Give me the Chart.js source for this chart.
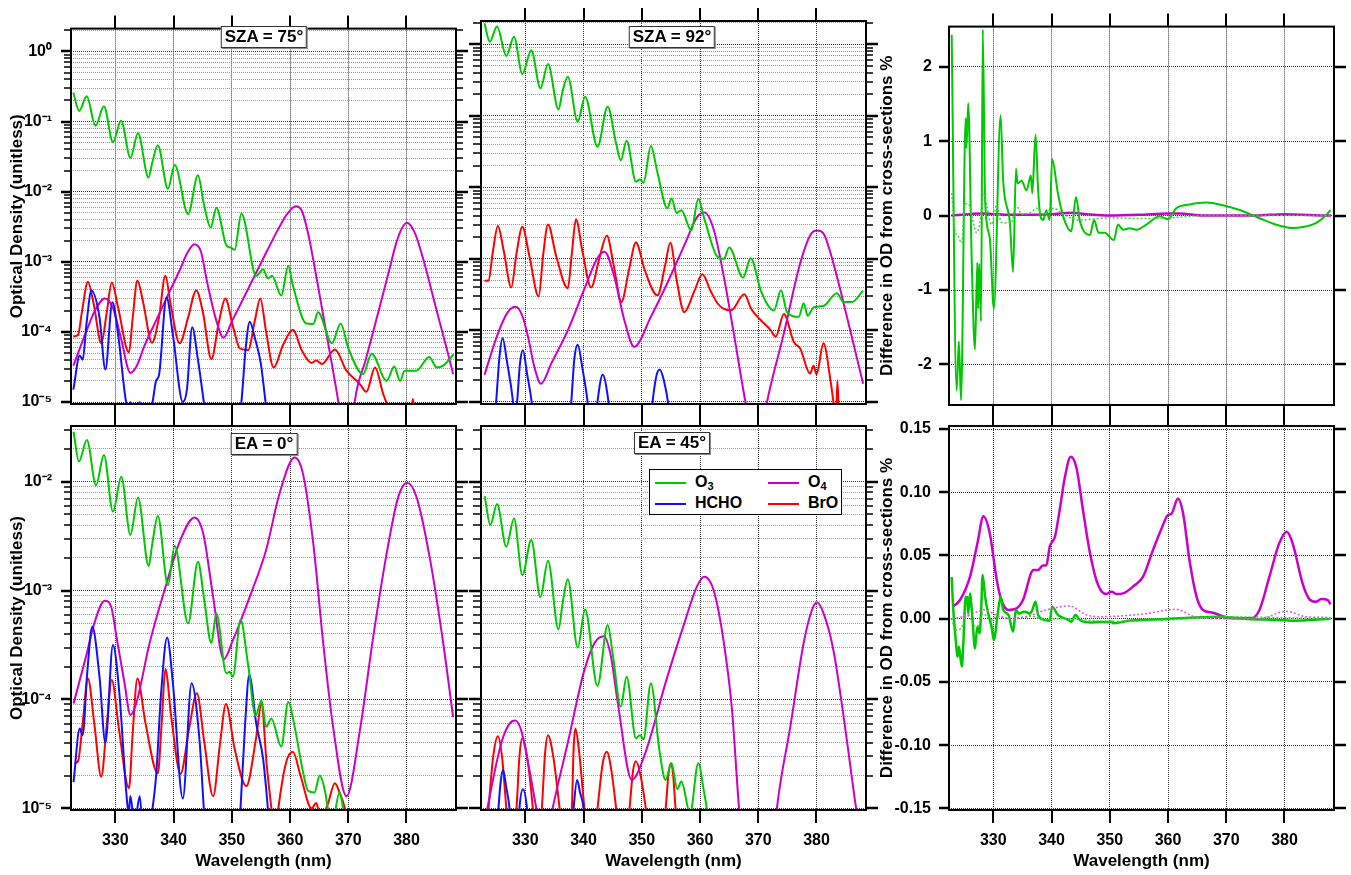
<!DOCTYPE html>
<html>
<head>
<meta charset="utf-8">
<script src="https://cdn.jsdelivr.net/npm/chart.js@4.4.1/dist/chart.umd.min.js"></script>
<style>
  body { margin: 0; background: #fff; }
  #page { position: relative; width: 1351px; height: 875px; overflow: hidden; font-family: 'Liberation Sans', Arial, sans-serif; }
  #page canvas { position: absolute; left: 0; top: 0; }
  .tag { position: absolute; transform: translate(-50%, -50%); background: #fff; border: 1px solid #333; box-shadow: 1px 1px 0 #888;
         font-weight: bold; font-size: 17px; line-height: 20px; padding: 0 3px; white-space: nowrap; color: #000; }
  .legend { position: absolute; left: 649px; top: 469px; width: 191px; height: 44px; background: #fff; border: 1px solid #000;
            font-weight: bold; font-size: 16px; color: #000; }
  .legend .item { position: absolute; height: 20px; line-height: 20px; white-space: nowrap; }
  .legend .item i { display: inline-block; width: 31px; height: 2px; vertical-align: middle; margin-right: 9px; }
  .legend sub { font-size: 11px; vertical-align: -3px; line-height: 0; }
</style>
</head>
<body>
<div id="page">
  <canvas id="c1" width="1351" height="875"></canvas>
  <canvas id="c2" width="1351" height="875"></canvas>
  <canvas id="c3" width="1351" height="875"></canvas>
  <canvas id="c4" width="1351" height="875"></canvas>
  <canvas id="c5" width="1351" height="875"></canvas>
  <canvas id="c6" width="1351" height="875"></canvas>
  <div class="tag" style="left:264px; top:37px">SZA = 75°</div>
  <div class="tag" style="left:672px; top:37px">SZA = 92°</div>
  <div class="tag" style="left:264px; top:444px">EA = 0°</div>
  <div class="tag" style="left:672px; top:443px">EA = 45°</div>
  <div class="legend">
    <div class="item" style="left:5px; top:2px"><i style="background:#00c800"></i>O<sub>3</sub></div>
    <div class="item" style="left:118px; top:2px"><i style="background:#cc00cc"></i>O<sub>4</sub></div>
    <div class="item" style="left:5px; top:23px"><i style="background:#1010ff"></i>HCHO</div>
    <div class="item" style="left:118px; top:23px"><i style="background:#ff0000"></i>BrO</div>
  </div>
</div>
<script>
const FONT = "'Liberation Sans', Arial, sans-serif"
const GREEN = '#00c800'
const BLUE = '#1010ff'
const RED = '#ff0000'
const MAGENTA = '#cc00cc'

// axis ticks
const wavelengthTicks = [330, 340, 350, 360, 370, 380]
const logMantissas = [1, 2, 3, 4, 5, 6, 7, 8, 9]
const logDecades = [-6, -5, -4, -3, -2, -1, 0]
const diffTopTicks = [-2, -1, 0, 1, 2]
const diffBottomTicks = [-0.15, -0.1, -0.05, 0, 0.05, 0.1, 0.15]

// [wavelength nm, optical density]  --- SZA = 75°
const sza75_O3 = [[322.8,0.26],[323.8,0.142],[325.1,0.23],[326.6,0.0875],[328.05,0.166],[329.6,0.051],[331.0,0.103],[332.6,0.0305],[333.9,0.068],[335.7,0.016],[336.4,0.027],[337.3,0.046],[339.05,0.011],[340.2,0.024],[342.5,0.0048],[344.2,0.0171],[345.2,0.0067],[346.4,0.0031],[347.35,0.0059],[349.1,0.0017],[349.8,0.0016],[350.5,0.00148],[351.65,0.0049],[354.2,0.00063],[355.4,0.00078],[356.2,0.00058],[356.9,0.00063],[358.5,0.00033],[359.7,0.00087],[360.5,0.00046],[362.8,0.000132],[364.0,0.00013],[364.8,0.00019],[367.2,6.9e-5],[368.7,1.32e-4],[370.0,5.9e-5],[372.55,2.5e-5],[374.0,4.9e-5],[376.6,2.0e-5],[377.9,3.2e-5],[378.9,2.0e-5],[379.7,2.8e-5],[381.7,2.8e-5],[383.9,4.4e-5],[385.2,3.1e-5],[386.3,3.3e-5],[388.1,4.8e-5]]
const sza75_O4 = [[322.8,3.3e-5],[325,1.0e-4],[326.5,2.0e-4],[328.2,3.0e-4],[329.6,2.2e-4],[331,8e-5],[332.6,2.6e-5],[333.7,3.3e-5],[335,6.3e-5],[337,1.45e-4],[339,3.3e-4],[341,7.4e-4],[342.5,1.4e-3],[343.6,1.78e-3],[344.7,1.4e-3],[345.8,5e-4],[347.2,1.6e-4],[348.6,8.3e-5],[350,1.4e-4],[352,3.0e-4],[354,6.5e-4],[356,1.4e-3],[358,2.95e-3],[359.5,4.8e-3],[361,6.2e-3],[362,5.4e-3],[363,2.8e-3],[364.5,6.3e-4],[366.3,9e-5],[368.3,1e-5],[369.5,2e-6],[370.3,2e-6],[371.1,1e-5],[373,4e-5],[375,1.7e-4],[377,7.4e-4],[378.2,1.8e-3],[379.2,3.0e-3],[380.1,3.6e-3],[381.5,2.5e-3],[383,1.0e-3],[385,2.3e-4],[387,5.4e-5],[388,2.5e-5]]
const sza75_HCHO = [[322.8,1.5e-5],[323.9,4.6e-5],[324.4,4.0e-5],[325.1,1.4e-4],[325.9,3.9e-4],[327.3,1.6e-4],[328.3,2.9e-5],[329.5,2.65e-4],[330.5,9e-5],[331.8,1.07e-5],[332.2,8e-6],[332.6,1.0e-5],[333.2,6e-6],[334.2,1.0e-5],[335,4e-6],[336.4,1.0e-5],[337.0,2.0e-5],[337.5,2.4e-5],[338.8,3.1e-4],[339.9,9e-5],[341.6,1.0e-5],[342.3,1.5e-5],[343.2,1.17e-4],[344.2,4e-5],[345.2,1e-5],[346,3e-6],[350.5,3e-6],[351.65,1e-5],[352.4,6e-5],[353.1,1.4e-4],[354,8e-5],[355,3.5e-5],[355.8,1e-5],[356.6,3e-6],[388,3e-6]]
const sza75_BrO = [[322.8,8.6e-5],[323.6,9.0e-5],[324.3,2.0e-4],[325.3,5.2e-4],[326.3,2.5e-4],[327.6,6.9e-5],[328.5,1.8e-4],[329.4,5.06e-4],[330.5,2.2e-4],[332.35,5.1e-5],[333.0,1.6e-4],[333.8,5.4e-4],[334.8,2.6e-4],[336.3,7e-5],[337.5,1.6e-4],[338.6,6.3e-4],[339.5,2.5e-4],[341.05,6.9e-5],[342.5,1.6e-4],[343.9,3.9e-4],[345.0,2.0e-4],[346.5,4.1e-5],[347.8,1.4e-4],[348.9,3.0e-4],[350.2,1.2e-4],[351.4,5.8e-5],[352.8,5.5e-5],[354.0,1.5e-4],[354.9,3.0e-4],[355.9,1.0e-4],[357.2,3.1e-5],[358.8,6.5e-5],[360.5,1.07e-4],[362,5.5e-5],[363.7,3.6e-5],[364.5,3.9e-5],[365.5,3.5e-5],[367.7,5.6e-5],[369.7,2.8e-5],[372.0,1.8e-5],[373.1,1.4e-5],[374.6,3.1e-5],[376.0,1.3e-5],[377.0,8e-6],[378.5,4e-6],[380.6,5e-6],[381.1,1.1e-5],[381.6,5e-6],[384,3e-6],[388,3e-6]]

// SZA = 92°
const sza92_O3 = [[323.0,1.97],[323.9,1.09],[325.15,1.77],[326.75,0.687],[328.06,1.28],[329.5,0.385],[331.03,0.83],[332.6,0.243],[333.9,0.53],[335.7,0.123],[336.45,0.23],[337.3,0.353],[339.0,0.083],[340.27,0.185],[342.4,0.037],[344.15,0.134],[345.6,0.041],[346.4,0.024],[347.4,0.045],[349.0,0.012],[349.7,0.0129],[350.3,0.0116],[351.56,0.038],[352.7,0.016],[354.4,0.0051],[355.1,0.0070],[356.0,0.0044],[356.8,0.0048],[358.5,0.0025],[359.7,0.00687],[360.8,0.0035],[363.0,0.00107],[364.1,0.0010],[365.0,0.00145],[367.4,5.5e-4],[368.7,1.02e-3],[370.5,3.5e-4],[372.7,1.9e-4],[373.9,3.65e-4],[374.95,1.8e-4],[376.95,1.55e-4],[377.8,2.4e-4],[378.5,1.6e-4],[379.5,2.1e-4],[381.2,2.2e-4],[383.5,3.3e-4],[384.65,2.5e-4],[386.1,2.5e-4],[388.0,3.6e-4]]
const sza92_O4 = [[323.0,2.4e-5],[325.3,9e-5],[327,1.8e-4],[328.35,2.14e-4],[329.5,1.6e-4],[330.5,8e-5],[331.6,3e-5],[332.7,1.8e-5],[334.5,3.5e-5],[337.3,1.0e-4],[340.2,3.9e-4],[342.3,1.0e-3],[343.6,1.26e-3],[345.3,5.6e-4],[347,1.4e-4],[348.7,5.9e-5],[351.56,1.55e-4],[354.4,4.6e-4],[357.3,1.55e-3],[359.55,3.9e-3],[360.8,4.47e-3],[362.4,2.5e-3],[364.1,5.6e-4],[365.8,9.1e-5],[367.8,1e-5],[369.5,2e-6],[370,2e-6],[371.5,1e-5],[374.4,9.1e-5],[377.2,8.7e-4],[379,2.2e-3],[380.1,2.5e-3],[381.3,2.2e-3],[382.9,8.7e-4],[385.8,1e-4],[388,1.8e-5]]
const sza92_HCHO = [[323,3e-6],[324.5,3e-6],[325.0,1e-5],[325.6,4.5e-5],[326.1,7.8e-5],[326.9,3.5e-5],[327.9,1e-5],[328.2,5e-6],[328.6,1e-5],[329.1,3.5e-5],[329.6,5.3e-5],[330.3,2.5e-5],[331.1,1e-5],[331.8,3e-6],[337.2,3e-6],[337.9,1e-5],[338.4,3.8e-5],[339.0,6.3e-5],[339.8,3e-5],[340.7,1e-5],[341.3,3e-6],[341.8,3e-6],[342.4,1e-5],[343.3,2.4e-5],[344.3,1e-5],[345,3e-6],[351.2,3e-6],[351.85,1e-5],[352.5,2.3e-5],[353.1,2.85e-5],[353.8,2e-5],[354.5,1e-5],[355.2,3e-6],[388,3e-6]]
const sza92_BrO = [[323.0,4.95e-4],[323.7,5.0e-4],[324.4,1.2e-3],[325.3,2.88e-3],[326.3,1.3e-3],[327.6,4.0e-4],[328.5,1.2e-3],[329.5,2.82e-3],[330.7,1.1e-3],[332.3,3.0e-4],[333.1,1.2e-3],[333.9,3.03e-3],[335.3,1.1e-3],[337.3,3.9e-4],[338.0,1.2e-3],[338.7,3.6e-3],[339.8,1.3e-3],[341.3,4.0e-4],[342.7,1.0e-3],[344.0,2.13e-3],[345.2,8e-4],[346.5,2.5e-4],[347.8,7e-4],[349.0,1.7e-3],[350.5,7e-4],[352.7,3.1e-4],[354.0,8e-4],[354.9,1.68e-3],[356,5e-4],[357.3,1.8e-4],[359,3.5e-4],[360.4,6.1e-4],[361.8,3.6e-4],[363.0,2.4e-4],[364.1,2.0e-4],[365.3,1.9e-4],[367.6,3.2e-4],[368.8,2.0e-4],[370.4,1.4e-4],[372.1,1.02e-4],[373.0,8.2e-5],[374.4,1.7e-4],[376.1,6.9e-5],[377.2,5.6e-5],[378.9,2.5e-5],[379.5,3.2e-5],[380.0,2.45e-5],[381.2,6.6e-5],[382.4,2.0e-5],[382.9,1e-5],[383.3,5e-6],[383.6,2e-5],[383.9,5e-6],[388,3e-6]]

// EA = 0°
const ea0_O3 = [[322.84,0.0288],[323.76,0.0153],[325.13,0.0242],[326.7,0.0093],[328.05,0.0176],[329.6,0.0053],[331.03,0.0111],[332.6,0.00324],[333.9,0.00718],[335.73,0.00168],[336.36,0.0027],[337.3,0.00484],[339.05,0.00112],[340.2,0.00257],[342.5,5.0e-4],[344.2,0.00184],[345.2,8.8e-4],[346.5,3.3e-4],[347.35,6.2e-4],[349.07,1.74e-4],[349.6,1.8e-4],[350.2,1.62e-4],[351.5,5.4e-4],[352.8,2.1e-4],[354.1,7.1e-5],[355.1,9.8e-5],[355.9,5.6e-5],[356.8,6.7e-5],[358.5,3.7e-5],[359.7,9.5e-5],[360.8,5.6e-5],[362.2,2.2e-5],[363.1,1.45e-5],[364.2,1.4e-5],[365.1,2.0e-5],[366.0,1.45e-5],[366.5,1.0e-5],[367.2,7e-6],[368.5,1.4e-5],[369.4,8e-6],[371,3e-6],[388,3e-6]]
const ea0_O4 = [[322.84,9.2e-5],[325,2.5e-4],[326.4,5.0e-4],[328.2,8.07e-4],[329.3,7.1e-4],[330.2,3.8e-4],[331.6,1.4e-4],[332.6,7.2e-5],[333.6,9.2e-5],[335.9,3.3e-4],[338.8,1.16e-3],[341.05,2.8e-3],[343.6,4.7e-3],[345.1,3.35e-3],[346.8,8.8e-4],[348.6,2.34e-4],[350.2,3.5e-4],[353.1,8.8e-4],[355.9,2.36e-3],[358.2,7.8e-3],[360.8,0.0167],[362.2,0.012],[364,2.7e-3],[365.7,3.3e-4],[367.4,5.6e-5],[369.7,1.29e-5],[372,5.2e-5],[374.3,3.8e-4],[376.6,2.2e-3],[378.6,7.3e-3],[380.1,9.8e-3],[381.7,7.3e-3],[384,2.0e-3],[386.3,3.3e-4],[388,6.9e-5]]
const ea0_HCHO = [[322.84,1.74e-5],[323.9,5.4e-5],[324.4,4.7e-5],[325.2,1.8e-4],[326.05,4.65e-4],[327.3,1.6e-4],[328.3,4.0e-5],[329.6,3.16e-4],[330.7,1.15e-4],[331.9,1.38e-5],[332.3,9e-6],[332.6,1.3e-5],[333.3,7e-6],[334.2,1.3e-5],[335,4e-6],[336.4,1e-5],[337.0,1.95e-5],[337.9,1.2e-4],[338.9,3.7e-4],[339.9,1.4e-4],[341.6,1.23e-5],[343.1,1.41e-4],[344.5,4e-5],[345.2,1e-5],[346,3e-6],[350.8,3e-6],[351.5,1e-5],[352.3,6e-5],[353.0,1.68e-4],[354.2,6e-5],[355.4,2.8e-5],[356.2,1e-5],[357,3e-6],[388,3e-6]]
const ea0_BrO = [[323.0,2.6e-5],[323.6,2.7e-5],[324.4,6e-5],[325.3,1.56e-4],[326.4,6e-5],[327.6,1.95e-5],[328.5,5.5e-5],[329.4,1.51e-4],[330.6,5.5e-5],[332.35,1.53e-5],[333.0,5e-5],[333.8,1.56e-4],[335.2,6e-5],[337.3,2.1e-5],[338.0,6.5e-5],[338.6,1.9e-4],[339.6,7e-5],[341.2,2.07e-5],[342.7,5.5e-5],[344.0,1.14e-4],[345.3,4e-5],[346.8,1.29e-5],[348.0,4e-5],[349.0,9.1e-5],[350.5,3.5e-5],[352.5,1.6e-5],[354.2,4.5e-5],[355.1,9.1e-5],[356.0,2.5e-5],[356.8,1e-5],[357.4,5e-6],[358,1e-5],[359.3,2.6e-5],[360.5,3.3e-5],[361.8,2e-5],[363.7,1e-5],[364.5,1.12e-5],[365.3,8e-6],[366.5,1.1e-5],[367.7,1.7e-5],[368.5,1.4e-5],[369.4,1e-5],[370.5,4e-6],[388,3e-6]]

// EA = 45°
const ea45_O3 = [[323.04,7.38e-3],[324.0,4.0e-3],[325.15,6.24e-3],[326.75,2.53e-3],[328.06,4.6e-3],[329.5,1.39e-3],[331.03,2.91e-3],[332.6,8.7e-4],[333.9,1.88e-3],[335.7,4.4e-4],[336.45,7.9e-4],[337.3,1.27e-3],[339.0,3.0e-4],[340.27,6.7e-4],[342.4,1.33e-4],[344.15,4.83e-4],[345.0,2.65e-4],[346.4,8.6e-5],[347.4,1.62e-4],[349.0,4.4e-5],[349.7,4.7e-5],[350.3,4.3e-5],[351.56,1.41e-4],[353,3.5e-5],[354.1,1.82e-5],[355.1,2.6e-5],[356.1,1.5e-5],[356.8,1.76e-5],[358.3,9e-6],[359.7,2.6e-5],[360.7,1.4e-5],[361.15,1e-5],[362,3e-6],[388,3e-6]]
const ea45_O4 = [[323.0,7e-6],[323.5,1e-5],[325.9,4e-5],[327.3,6e-5],[328.3,6.4e-5],[329.3,5.2e-5],[330.5,2.6e-5],[331.9,1e-5],[333.3,4e-6],[334.7,1e-5],[337.3,4e-5],[340.15,1.86e-4],[341.9,3.3e-4],[343.5,3.8e-4],[344.7,2.5e-4],[345.9,9.2e-5],[348.3,1.82e-5],[350.4,3.0e-5],[354.4,1.62e-4],[357.3,5.0e-4],[359.5,1.1e-3],[360.8,1.34e-3],[362.4,9.8e-4],[364.1,3.3e-4],[365.5,8e-5],[366.7,1e-5],[368,2e-6],[372,2e-6],[373.2,1e-5],[375.5,5.6e-5],[377.8,3.3e-4],[379.2,6.6e-4],[380.1,7.76e-4],[381.2,6.2e-4],[382.9,2.85e-4],[384.9,5.6e-5],[386.8,1e-5],[388,4e-6]]
const ea45_HCHO = [[323,3e-6],[324.8,3e-6],[325.4,1e-5],[325.8,1.8e-5],[326.2,2.25e-5],[326.7,1.6e-5],[327.3,1e-5],[328,3e-6],[328.5,3e-6],[329.0,1e-5],[329.6,1.5e-5],[330.3,1e-5],[331,3e-6],[337.6,3e-6],[338.3,1e-5],[338.9,1.82e-5],[339.4,1.4e-5],[340,1e-5],[340.7,3e-6],[388,3e-6]]
const ea45_BrO = [[323,3e-6],[323.7,1e-5],[324.5,3e-5],[325.3,4.6e-5],[326,3e-5],[326.75,1e-5],[327.6,3e-6],[328.5,1e-5],[329.0,3e-5],[329.5,4.4e-5],[330.3,3e-5],[331.3,1e-5],[332,3e-6],[332.85,1e-5],[333.4,3.2e-5],[333.9,4.7e-5],[334.8,3e-5],[335.9,1e-5],[337,3e-6],[338.0,1e-5],[338.3,3.5e-5],[338.6,5.4e-5],[339.2,3.5e-5],[340.15,1e-5],[341.2,3e-6],[342.4,1e-5],[343.3,2.6e-5],[344.0,3.3e-5],[344.8,2.2e-5],[345.6,1e-5],[346.7,3e-6],[347.9,1e-5],[348.5,2.2e-5],[349.0,2.7e-5],[349.8,2e-5],[350.7,1e-5],[352,3e-6],[354.1,1e-5],[354.6,2.1e-5],[355.0,2.6e-5],[355.4,2.0e-5],[355.8,1e-5],[356.8,3e-6],[388,3e-6]]

// difference in OD from cross-sections, % (top)
const diffTop_O3 = [[322.86,2.43],[323.7,-2.35],[324.1,-1.69],[324.46,-2.48],[325.26,1.31],[325.4,0.91],[325.7,1.51],[326.3,-0.6],[326.86,-1.8],[327.26,-0.63],[327.4,-1.25],[327.6,-0.65],[327.9,-1.42],[328.2,2.5],[328.6,0.2],[329.4,-0.3],[330.1,-1.25],[331.26,1.35],[331.7,0.47],[332.86,-0.1],[333.4,-0.76],[333.9,0.63],[334.17,0.43],[334.86,0.47],[335.7,0.34],[336.46,0.54],[336.7,0.3],[337.26,1.09],[337.7,0.34],[338.1,-0.01],[338.57,-0.06],[339.1,0.07],[339.7,-0.06],[340.1,0.76],[341.1,0.3],[342.0,-0.01],[343.4,-0.21],[344.2,0.25],[344.86,-0.07],[346.6,-0.26],[347.3,-0.06],[348.1,-0.23],[349.1,-0.23],[350.7,-0.33],[351.4,-0.12],[352.3,-0.19],[353.4,-0.17],[354.6,-0.19],[356.3,-0.12],[358.6,-0.01],[360.0,-0.05],[361.4,0.10],[363.7,0.15],[366.6,0.176],[369.4,0.14],[372.3,0.075],[375.7,-0.035],[378.6,-0.123],[381.4,-0.167],[383.1,-0.154],[385.4,-0.10],[386.9,-0.013],[387.9,0.075]]
const diffTop_O3dot = [[322.86,0.3],[323.4,-0.19],[324.0,-0.28],[324.6,-0.37],[325.1,0.16],[325.7,0.16],[326.6,-0.1],[327.1,-0.23],[327.7,-0.1],[328.3,0.3],[329.7,-0.12],[330.6,0.14],[331.4,-0.09],[333.1,-0.1],[333.9,0.14],[334.9,0.02],[336.6,0.05],[337.4,0.1],[338.6,0.02],[340.3,0.1],[342,0.02],[344.6,-0.06],[350,-0.03],[356,-0.04],[362,-0.02],[366,0],[388,0]]
const diffTop_O4 = [[322.8,0],[326,0.02],[328,0.03],[330,0.02],[333,0.01],[336,0.01],[340,0.02],[343.5,0.04],[346,0.02],[350,0.0],[355,0.01],[360,0.03],[362,0.03],[366,0.0],[375,0.0],[380,0.02],[383,0.01],[388,0.0]]

// difference in OD from cross-sections, % (bottom)
const diffBot_O4 = [[323.03,0.0095],[324.3,0.0148],[326,0.033],[327.3,0.06],[328.3,0.081],[329.4,0.0675],[330.6,0.0306],[331.4,0.0148],[332.6,0.0069],[334,0.0082],[335.1,0.0148],[336.9,0.0385],[337.7,0.0385],[338.5,0.042],[339.1,0.042],[339.7,0.057],[340.6,0.065],[341.4,0.086],[342.3,0.112],[343.3,0.128],[344.3,0.119],[345.4,0.086],[346.6,0.052],[348,0.0266],[349.4,0.0195],[350.3,0.0214],[351.1,0.0195],[352.3,0.02],[354.3,0.0266],[355.7,0.033],[357.4,0.054],[358.9,0.0714],[360,0.082],[360.6,0.083],[361.7,0.095],[362.6,0.083],[363.7,0.046],[364.9,0.0174],[366,0.0069],[367.7,0.0047],[370,0.001],[372.9,0.0003],[374.3,0.0003],[375.7,0.0069],[377.4,0.033],[379.1,0.0596],[380.4,0.0688],[381.4,0.0596],[383.1,0.028],[384.3,0.0153],[385.4,0.0134],[386.3,0.0155],[387.4,0.0148],[387.9,0.0113]]
const diffBot_O4dot = [[323,0],[326,0.003],[328.3,0.007],[331.1,0.0016],[332.9,0],[335.7,0.0016],[339.1,0.007],[343.1,0.010],[346,0.003],[348.3,0.0016],[355.7,0.0037],[361.4,0.0074],[364.3,0.002],[367.7,0],[375.7,0],[380.3,0.0058],[383.7,0.0016],[387.9,0.001]]
const diffBot_O3 = [[322.86,0.033],[323.1,0.0095],[323.5,-0.014],[323.9,-0.030],[324.1,-0.022],[324.6,-0.038],[324.86,-0.0195],[325.26,0.0174],[325.5,0.017],[325.7,0.004],[326,0.020],[326.4,0.0016],[326.86,-0.0235],[327.26,-0.0063],[327.66,-0.0116],[327.9,0.004],[328.17,0.0345],[328.6,0.0174],[329.14,0.004],[329.7,-0.0063],[330.1,-0.017],[330.7,0.0016],[331.26,0.0174],[331.7,0.007],[332.6,0.003],[333.4,-0.0103],[333.9,0.007],[334.4,0.004],[335.4,0.0055],[336.3,0.004],[336.7,0.0069],[337.26,0.0135],[337.7,0.003],[338.86,-0.001],[339.7,-0.0016],[340.1,0.0095],[341.1,0.003],[342.9,-0.001],[343.4,-0.0024],[344.1,0.003],[344.86,-0.001],[346.86,-0.003],[350.3,-0.0024],[350.6,-0.0037],[352.9,-0.0018],[358.6,-0.0005],[364.3,0.001],[368.9,0.0016],[372.9,0],[378.6,-0.001],[381.4,-0.0016],[387.9,0]]
const diffBot_O3dot = [[322.86,0.0],[323.5,-0.009],[324.6,-0.007],[325.3,0.004],[326,0.0],[326.9,-0.006],[327.5,-0.005],[328.2,0.004],[329.7,-0.001],[330.6,0.002],[333,0.0],[336.5,0.002],[338.9,-0.0005],[342,0.0],[350,-0.002],[360,-0.001],[370,0.0015],[388,0.0]]

const X_MIN = 322.4
const X_MAX = 388.5

function isPow10(v) {
  const l = Math.log10(v)
  return Math.abs(l - Math.round(l)) < 1e-6
}
const SUP = { '-': '\u207B', 0: '\u2070', 1: '\u00B9', 2: '\u00B2', 3: '\u00B3', 4: '\u2074', 5: '\u2075', 6: '\u2076' }
function powLabel(v) {
  const e = String(Math.round(Math.log10(v)))
  return '10' + e.split('').map((c) => SUP[c]).join('')
}
function logTicks(min, max) {
  const out = []
  logDecades.forEach((d) => {
    logMantissas.forEach((m) => {
      const v = m * Math.pow(10, d)
      if (v >= min * 0.9999 && v <= max * 1.0001) out.push(v)
    })
  })
  return out
}

function line(points, color, extra) {
  return Object.assign({
    data: points.map(([x, y]) => ({ x, y })),
    borderColor: color,
    borderWidth: 2,
    pointRadius: 0,
    fill: false,
    cubicInterpolationMode: 'monotone',
  }, extra || {})
}

// frame + outward ticks on all four sides, like the original plots
const frameTicks = {
  id: 'frameTicks',
  afterDatasetsDraw(chart, args, o) {
    const { ctx, chartArea: a } = chart
    const xs = chart.scales.x
    const ys = chart.scales.y
    const logY = ys.type === 'logarithmic'
    ctx.save()
    ctx.strokeStyle = '#000'
    ctx.lineCap = 'butt'
    const seg = (x1, y1, x2, y2, w) => {
      ctx.lineWidth = w
      ctx.beginPath()
      ctx.moveTo(x1, y1)
      ctx.lineTo(x2, y2)
      ctx.stroke()
    }
    xs.ticks.forEach((t) => {
      const p = Math.round(xs.getPixelForValue(t.value))
      seg(p, a.top - o.xLen, p, a.top, 2)
      seg(p, a.bottom, p, a.bottom + o.xLen, 2)
    })
    ys.ticks.forEach((t) => {
      const p = Math.round(ys.getPixelForValue(t.value))
      const major = !logY || isPow10(t.value)
      const w = major ? 2.5 : 1.5
      seg(a.left - (major ? o.leftMajor : o.leftMinor), p, a.left, p, w)
      seg(a.right, p, a.right + (major ? o.rightMajor : o.rightMinor), p, w)
    })
    ctx.lineWidth = 2
    ctx.strokeRect(a.left, a.top, a.right - a.left, a.bottom - a.top)
    ctx.restore()
  },
}

function drawPanel(id, p) {
  const f = p.frame
  const hasTitle = !!p.yTitle
  const titleSize = 17
  const padLeft = hasTitle ? p.yTitleX - titleSize * 0.6 : f.left
  const yWidth = f.left - padLeft
  const xHeight = p.xLabels ? 875 - f.bottom : 20
  const padBottom = 875 - f.bottom - xHeight
  const logY = p.yType === 'logarithmic'
  const tickFont = { family: FONT, size: 16, weight: 'bold' }

  new Chart(document.getElementById(id), {
    type: 'line',
    data: { datasets: p.datasets },
    options: {
      responsive: false,
      animation: false,
      devicePixelRatio: 1,
      layout: { padding: { left: padLeft, top: f.top, right: 1351 - f.right, bottom: padBottom } },
      plugins: {
        legend: { display: false },
        tooltip: { enabled: false },
        frameTicks: p.tickLen,
      },
      scales: {
        x: {
          type: 'linear',
          bounds: 'data',
          min: X_MIN,
          max: X_MAX,
          afterBuildTicks: (s) => { s.ticks = wavelengthTicks.map((v) => ({ value: v })) },
          afterFit: (s) => { s.height = xHeight },
          grid: { color: '#333', lineWidth: 1, drawTicks: false },
          border: { display: false, dash: [1, 1] },
          ticks: { display: p.xLabels, padding: 21, autoSkip: false, maxRotation: 0, color: '#000', font: tickFont, callback: (v) => String(v) },
          title: { display: p.xLabels, text: 'Wavelength (nm)', color: '#000', font: { family: FONT, size: 17, weight: 'bold' }, padding: { top: 0, bottom: 3 } },
        },
        y: {
          type: p.yType,
          bounds: 'data',
          min: p.yMin,
          max: p.yMax,
          afterBuildTicks: (s) => { s.ticks = p.yTicks.map((v) => ({ value: v })) },
          afterFit: (s) => { s.width = yWidth },
          grid: {
            lineWidth: 1,
            drawTicks: false,
            color: (c) => (!logY || (c.tick && isPow10(c.tick.value)) ? '#333' : '#999'),
          },
          border: { display: false, dash: [1, 1] },
          ticks: {
            display: p.yLabels,
            padding: f.left - p.yLabelRight,
            autoSkip: false,
            color: '#000',
            font: tickFont,
            callback: (v) => (logY ? (isPow10(v) ? powLabel(v) : '') : p.yFormat(v)),
          },
          title: { display: hasTitle, text: p.yTitle || '', color: '#000', font: { family: FONT, size: titleSize, weight: 'bold' }, padding: 0 },
        },
      },
    },
    plugins: [frameTicks],
  })
}

const logTickLenLeft = { xLen: 13, leftMajor: 10, leftMinor: 7, rightMajor: 12, rightMinor: 7 }
const logTickLenMid = { xLen: 13, leftMajor: 12, leftMinor: 8, rightMajor: 12, rightMinor: 7 }
const diffTickLen = { xLen: 13, leftMajor: 10, leftMinor: 10, rightMajor: 12, rightMinor: 12 }
const TOP_LOG = [9.37e-6, 2.12]
const BOT_LOG = [9.65e-6, 0.0325]

drawPanel('c1', {
  frame: { left: 71, top: 21, right: 456, bottom: 404 },
  yType: 'logarithmic', yMin: TOP_LOG[0], yMax: TOP_LOG[1], yTicks: logTicks(TOP_LOG[0], TOP_LOG[1]),
  yLabels: true, yLabelRight: 52, yTitle: 'Optical Density (unitless)', yTitleX: 17, xLabels: false, tickLen: logTickLenLeft,
  datasets: [line(sza75_O3, GREEN), line(sza75_HCHO, BLUE), line(sza75_O4, MAGENTA), line(sza75_BrO, RED)],
})
drawPanel('c2', {
  frame: { left: 481, top: 21, right: 866, bottom: 404 },
  yType: 'logarithmic', yMin: TOP_LOG[0], yMax: TOP_LOG[1], yTicks: logTicks(TOP_LOG[0], TOP_LOG[1]),
  yLabels: false, yLabelRight: 470, yTitle: null, xLabels: false, tickLen: logTickLenMid,
  datasets: [line(sza92_O3, GREEN), line(sza92_HCHO, BLUE), line(sza92_O4, MAGENTA), line(sza92_BrO, RED)],
})
drawPanel('c3', {
  frame: { left: 949, top: 20, right: 1334, bottom: 405 },
  yType: 'linear', yMin: -2.545, yMax: 2.54, yTicks: diffTopTicks, yFormat: (v) => String(v),
  yLabels: true, yLabelRight: 932, yTitle: 'Difference in OD from cross-sections %', yTitleX: 887, xLabels: false, tickLen: diffTickLen,
  datasets: [
    line(diffTop_O3dot, '#3cd23c', { borderWidth: 1.5, borderDash: [2, 2] }),
    line(diffTop_O3, GREEN),
    line(diffTop_O4, MAGENTA, { borderWidth: 2.5 }),
  ],
})
drawPanel('c4', {
  frame: { left: 71, top: 426, right: 456, bottom: 810 },
  yType: 'logarithmic', yMin: BOT_LOG[0], yMax: BOT_LOG[1], yTicks: logTicks(BOT_LOG[0], BOT_LOG[1]),
  yLabels: true, yLabelRight: 52, yTitle: 'Optical Density (unitless)', yTitleX: 17, xLabels: true, tickLen: logTickLenLeft,
  datasets: [line(ea0_O3, GREEN), line(ea0_HCHO, BLUE), line(ea0_O4, MAGENTA), line(ea0_BrO, RED)],
})
drawPanel('c5', {
  frame: { left: 481, top: 426, right: 866, bottom: 810 },
  yType: 'logarithmic', yMin: BOT_LOG[0], yMax: BOT_LOG[1], yTicks: logTicks(BOT_LOG[0], BOT_LOG[1]),
  yLabels: false, yLabelRight: 470, yTitle: null, xLabels: true, tickLen: logTickLenMid,
  datasets: [line(ea45_O3, GREEN), line(ea45_HCHO, BLUE), line(ea45_O4, MAGENTA), line(ea45_BrO, RED)],
})
drawPanel('c6', {
  frame: { left: 949, top: 426, right: 1334, bottom: 810 },
  yType: 'linear', yMin: -0.1513, yMax: 0.1524, yTicks: diffBottomTicks, yFormat: (v) => v.toFixed(2),
  yLabels: true, yLabelRight: 931, yTitle: 'Difference in OD from cross-sections %', yTitleX: 887, xLabels: true, tickLen: diffTickLen,
  datasets: [
    line(diffBot_O4dot, '#dd55dd', { borderWidth: 1.5, borderDash: [2, 2] }),
    line(diffBot_O3dot, '#3cd23c', { borderWidth: 1.5, borderDash: [2, 2] }),
    line(diffBot_O3, GREEN, { borderWidth: 2.5 }),
    line(diffBot_O4, MAGENTA, { borderWidth: 2.5 }),
  ],
})
</script>
</body>
</html>
